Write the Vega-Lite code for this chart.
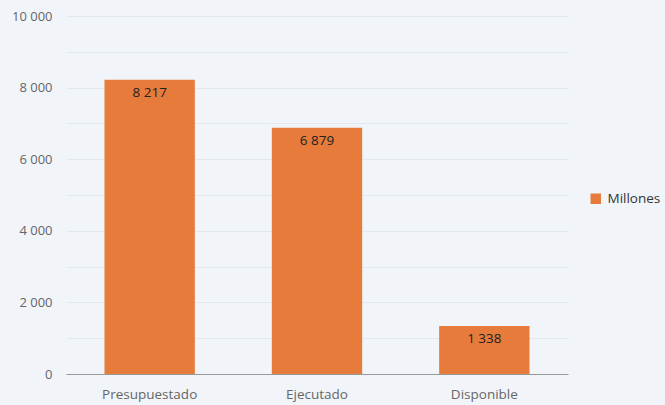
{
  "$schema": "https://vega.github.io/schema/vega-lite/v6.json",
  "width": 502,
  "height": 358,
  "autosize": {"type": "none"},
  "padding": {"left": 66, "top": 16, "right": 97, "bottom": 31},
  "background": "#f1f5fa",
  "config": {
    "view": {"stroke": null},
    "font": "Open Sans",
    "locale": {"number": {"decimal": ",", "thousands": " ", "grouping": [3], "currency": ["", ""]}}
  },
  "data": {"values": [
    {"categoria": "Presupuestado", "valor": 8217, "serie": "Millones"},
    {"categoria": "Ejecutado", "valor": 6879, "serie": "Millones"},
    {"categoria": "Disponible", "valor": 1338, "serie": "Millones"}
  ]},
  "encoding": {
    "x": {"field": "categoria", "type": "nominal", "sort": null,
      "scale": {"paddingInner": 0.46, "paddingOuter": 0.23},
      "axis": {"title": null, "labelAngle": 0, "ticks": false, "domainColor": "#999999", "labelColor": "#666666", "labelFontSize": 13.5, "labelPadding": 13}},
    "y": {"field": "valor", "type": "quantitative",
      "scale": {"domain": [0, 10000], "nice": false},
      "axis": {"title": null, "values": [0,1000,2000,3000,4000,5000,6000,7000,8000,9000,10000],
        "labelExpr": "datum.value % 2000 == 0 ? format(datum.value, ',d') : ''",
        "ticks": false, "domain": false, "gridColor": "#e3e8ee", "labelColor": "#666666", "labelFontSize": 13, "labelPadding": 14}}
  },
  "layer": [
    {"mark": {"type": "bar", "color": "#e67b3c"},
     "encoding": {"color": {"field": "serie", "type": "nominal", "scale": {"range": ["#e67b3c"]},
       "legend": {"title": null, "orient": "none", "legendX": 523, "legendY": 176, "symbolType": "square", "symbolSize": 110, "labelFontSize": 13.5, "labelOffset": 5, "labelColor": "#333333", "symbolStrokeWidth": 0}}}},
    {"mark": {"type": "text", "baseline": "top", "dy": 6, "fontSize": 13.5, "color": "#222222"},
     "encoding": {"text": {"field": "valor", "type": "quantitative", "format": ",d"}}}
  ]
}
